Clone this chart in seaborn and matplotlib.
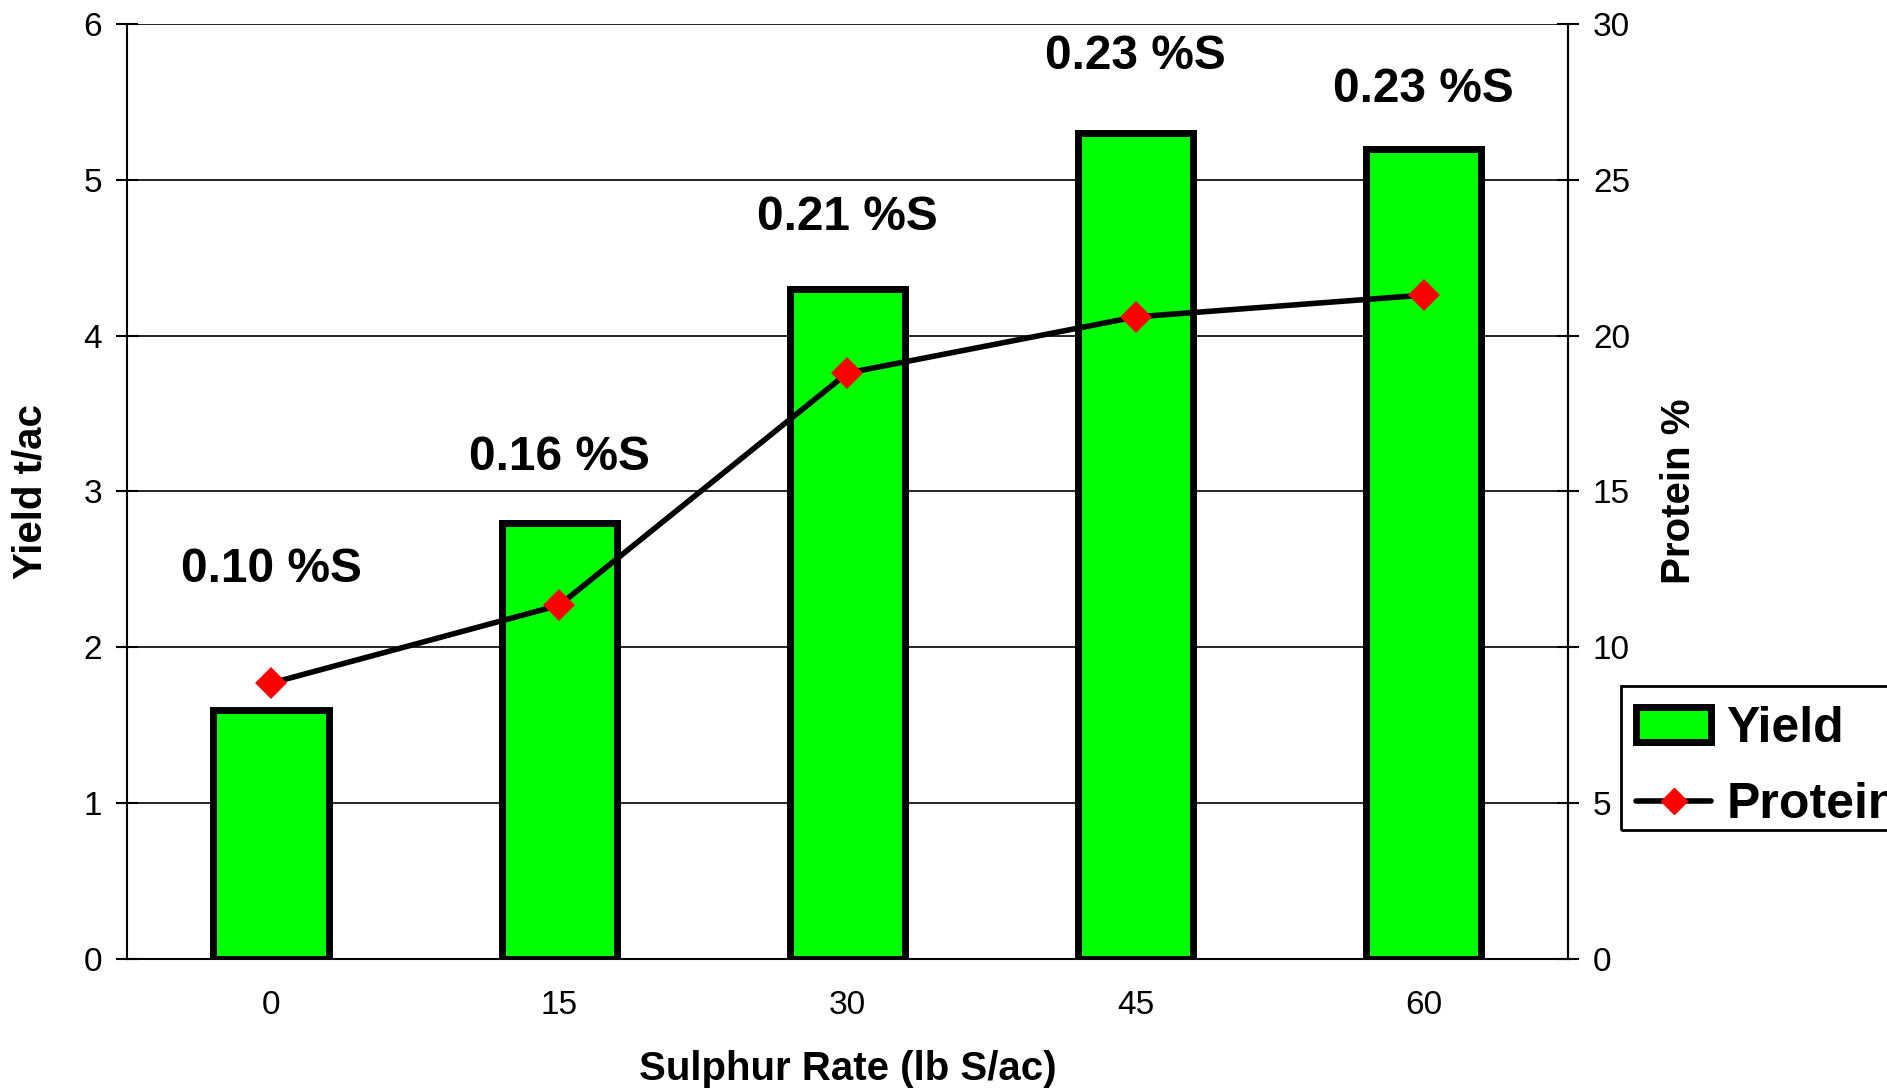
import pandas as pd
import seaborn as sns
import matplotlib.pyplot as plt
from matplotlib.patches import Patch, Rectangle
from matplotlib.lines import Line2D

# 数据
rates = ["0", "15", "30", "45", "60"]
yield_t = [1.6, 2.8, 4.3, 5.3, 5.2]
protein = [8.85, 11.35, 18.8, 20.6, 21.3]
s_labels = ["0.10 %S", "0.16 %S", "0.21 %S", "0.23 %S", "0.23 %S"]
label_y = [2.5, 3.22, 4.76, 5.79, 5.58]

df = pd.DataFrame({"rate": rates, "yield": yield_t, "protein": protein})

sns.set_style("white")
plt.rcParams['font.family'] = ['Liberation Sans', 'DejaVu Sans']
plt.rcParams['text.color'] = 'black'
plt.rcParams['axes.labelcolor'] = 'black'
plt.rcParams['xtick.color'] = 'black'
plt.rcParams['ytick.color'] = 'black'

fig = plt.figure(figsize=(18.87, 10.88), dpi=100)
ax = fig.add_axes([0.0673, 0.1186, 0.7636, 0.8594])

sns.barplot(data=df, x="rate", y="yield", ax=ax, color="#00ff00", width=0.4,
            edgecolor="black", linewidth=5, saturation=1, zorder=3)
ax.set_ylim(0, 6)
ax.set_xlim(-0.5, 4.5)
ax.set_yticks(range(0, 7))
ax.grid(axis="y", color="black", lw=1.2, zorder=0)
ax.set_axisbelow(True)

# x轴：刻度在类别之间，标签在中间
ax.set_xticks([i - 0.5 for i in range(6)])
ax.set_xticklabels([])
ax.set_xticks(range(5), minor=True)
ax.set_xticklabels(rates, minor=True)
ax.tick_params(axis="x", which="major", direction="inout", length=16, width=1.5)
ax.tick_params(axis="x", which="minor", length=0, pad=22, labelsize=24)
ax.tick_params(axis="y", direction="inout", length=16, width=1.5,
               labelsize=24, pad=10, left=True)

for s in ["left", "bottom", "right"]:
    ax.spines[s].set_color("black")
    ax.spines[s].set_linewidth(1.5)
ax.spines["top"].set_visible(False)

ax.set_xlabel("Sulphur Rate (lb S/ac)", fontsize=29, fontweight="bold")
ax.xaxis.set_label_coords(0.5, -0.097)
ax.set_ylabel("Yield t/ac", fontsize=29, fontweight="bold")
ax.yaxis.set_label_coords(-0.0535, 0.5)

for i, (t, y) in enumerate(zip(s_labels, label_y)):
    ax.text(i, y, t, ha="center", va="center", fontsize=34.5, fontweight="bold", zorder=5)

# 蛋白质折线（右轴）
ax2 = ax.twinx()
sns.pointplot(data=df, x="rate", y="protein", ax=ax2, color="black",
              markers="D", markersize=13, linewidth=4, zorder=4)
for ln in ax2.lines:
    ln.set_markerfacecolor("red")
    ln.set_markeredgecolor("red")
ax2.set_ylim(0, 30)
ax2.set_xlim(-0.5, 4.5)
ax2.set_yticks(range(0, 31, 5))
ax2.tick_params(axis="y", direction="inout", length=16, width=1.5,
                labelsize=24, pad=10, right=True)
ax2.grid(False)
for s in ["left", "bottom", "top"]:
    ax2.spines[s].set_visible(False)
ax2.spines["right"].set_color("black")
ax2.spines["right"].set_linewidth(1.5)
ax2.set_ylabel("Protein %", fontsize=29, fontweight="bold")
ax2.yaxis.set_label_coords(1.064, 0.5)
ax2.set_xlabel("")

# 图例（外框单独画）
handles = [Patch(facecolor="#00ff00", edgecolor="black", linewidth=5, label="Yield"),
           Line2D([0], [0], color="black", lw=4, marker="D", markersize=13,
                  markerfacecolor="red", markeredgecolor="red", label="Protein")]
leg = fig.legend(handles=handles, loc="center left", bbox_to_anchor=(0.850, 0.295),
                 frameon=False, prop={"size": 36, "weight": "bold"}, handlelength=1.5,
                 borderpad=0.4, labelspacing=0.6, handletextpad=0.3, borderaxespad=0.25)
fig.patches.append(Rectangle((0.859, 1 - 830 / 1088), 0.2, 144 / 1088,
                             transform=fig.transFigure, fill=False,
                             edgecolor="black", lw=2))

fig.savefig("out.png", dpi=100)
